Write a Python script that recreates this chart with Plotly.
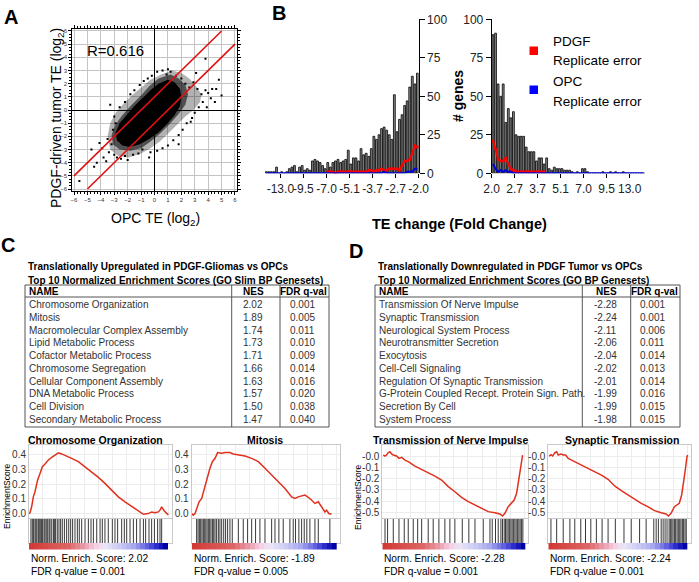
import plotly.graph_objects as go

W, H = 699, 582
FONT = "Arial, Liberation Sans, Helvetica, sans-serif"

# ------------------------------------------------------------------ data
# Panel A: scatter of TE (log2)
scatter_r_text = "R=0.616"
te_threshold_log2 = 1.0
core_x = [1.0, 1.5, 1.9, 2.0, 1.9, 1.5, 0.9, 0.3, -0.4, -1.1, -1.8, -2.4, -2.8, -2.9, -2.6, -2.1, -1.5, -0.9, -0.3, 0.3]
core_y = [2.3, 2.1, 1.6, 1.0, 0.3, -0.4, -1.1, -1.7, -2.2, -2.6, -2.8, -2.7, -2.3, -1.7, -1.0, -0.4, 0.3, 0.9, 1.5, 2.0]
mid_x = [1.2, 1.8, 2.3, 2.5, 2.3, 1.8, 1.1, 0.4, -0.3, -1.0, -1.8, -2.6, -3.1, -3.2, -2.9, -2.4, -1.7, -1.0, -0.4, 0.3]
mid_y = [2.7, 2.4, 1.9, 1.2, 0.4, -0.3, -1.1, -1.8, -2.4, -2.9, -3.1, -3.0, -2.6, -1.9, -1.1, -0.4, 0.4, 1.1, 1.8, 2.4]
halo_x = [1.3, 0.5, -0.3, -1.0, -1.7, -2.3, -2.9, -3.3, -3.5, -3.3, -2.7, -1.9, -1.0, -0.3, 0.4, 1.0, 1.7, 2.3, 2.9, 3.4, 3.5, 3.1, 2.6, 2.0]
halo_y = [3.0, 2.7, 2.3, 1.7, 1.1, 0.5, -0.2, -1.0, -2.0, -3.0, -3.5, -3.6, -3.3, -2.9, -2.4, -1.8, -1.1, -0.5, 0.0, 0.6, 1.2, 1.8, 2.4, 2.8]
outlier_x = [-5.6, -4.7, -4.3, -3.8, -3.6, -3.9, -3.4, -3.2, -3.5, -3.0, -2.8, -2.5, -2.2, -2.0, -1.6, -1.2, -0.9,
             -3.3, -3.0, -2.9, -3.1, -2.6, -2.2, -1.8, -1.5, -1.1, -0.8, -0.5, -0.2, 0.2, 0.6, 1.0, 1.2, 0.9,
             1.6, 2.0, 2.3, 2.6, 2.9, 3.2, 3.5, 3.8, 4.0, 4.3, 4.6, 5.0, 4.2, 3.6, 3.3, 3.0, 2.8, 2.4, 2.1, 1.8,
             1.4, 1.0, 0.6, 0.2, -0.3, 3.8, 3.1, 2.7, 3.9, 4.5, 4.8, -4.1, -4.5, -0.4, 1.8]
outlier_y = [-5.4, -3.0, -4.0, -3.6, -3.9, -2.9, -3.2, -2.6, -2.2, -3.4, -3.6, -3.7, -3.5, -3.8, -3.4, -3.3, -3.0,
             0.4, -0.5, -1.0, -1.5, 0.2, 0.6, 1.2, 1.5, 1.9, 2.2, 2.4, 2.6, 2.9, 3.0, 3.1, 2.9, 2.7,
             2.6, 2.4, 2.0, 1.7, 2.1, 1.6, 1.2, 1.5, 1.3, 1.6, 1.6, 1.1, 0.9, 0.6, 0.2, -0.2, -0.6, -1.0, -1.5, -1.9,
             -2.3, -2.7, -2.9, -3.1, -3.2, 3.9, 2.8, -0.9, 0.2, 0.6, 2.3, -2.5, -4.3, -3.6, -2.6]

# Panel B: histograms, 60 bins of 0.05 log2 units from |FC| = 2 to 16
bin_start_log2 = 1.0
bin_width_log2 = 0.05
down_counts = [1, 1, 1, 1, 4, 0, 1, 0, 1, 3,
               4, 5, 1, 4, 5, 2, 3, 2, 8, 9,
               8, 7, 5, 3, 7, 4, 7, 8, 9, 7,
               8, 9, 15, 6, 10, 10, 8, 16, 12, 13,
               11, 16, 24, 22, 25, 29, 30, 28, 25, 22,
               51, 27, 35, 38, 44, 47, 56, 63, 58, 65]          # ordered from -16 fold to -2 fold
down_pdgf_err = [None] * 24 + [1, 1, 1, 0, 1, 1, 1, 1, 1, 1,
                               1, 1, 1, 1, 1, 1, 2, 2, 1, 2,
                               2, 3, 2, 2, 3, 3, 3, 3, 2, 5,
                               8, 8, 9, 13, 18, 17]
down_opc_err = [0] * 46 + [1] + [0] * 8 + [1, 1, 1, 3, 3]
up_counts = [90, 91, 58, 50, 58, 33, 42, 36, 40, 25,
             24, 24, 24, 17, 14, 14, 14, 8, 10, 10,
             6, 10, 3, 2, 4, 3, 3, 3, 2, 2,
             2, 1, 0, 1, 0, 3, 3, 1, 0, 0,
             0, 0, 0, 1, 0, 0, 1, 0, 1, 0,
             0, 1, 0, 0, 0, 0, 0, 0, 0, 0]                        # ordered from 2 fold to 16 fold
up_pdgf_err = [21, 16, 9, 8, 8, 10, 6, 3, 2, 1, 1, 1, 1, 1, 1, 1, 1, 1, 1, 1, 1] + [None] * 39
up_opc_err = [6, 3, 1, 2, 1, 2, 1, 1] + [0] * 52
fc_tick_log2 = [1.0, 1.45, 1.9, 2.35, 2.8, 3.25, 3.7]
fc_tick_labels = ["2.0", "2.7", "3.7", "5.1", "7.0", "9.5", "13.0"]
count_ticks = [0, 25, 50, 75, 100]

# Panel C / D tables
c_title = ["Translationally Upregulated in PDGF-Gliomas vs OPCs",
           "Top 10 Normalized Enrichment Scores (GO Slim BP Genesets)"]
c_names = ["Chromosome Organization", "Mitosis", "Macromolecular Complex Assembly", "Lipid Metabolic Process",
           "Cofactor Metabolic Process", "Chromosome Segregation", "Cellular Component Assembly",
           "DNA Metabolic Process", "Cell Division", "Secondary Metabolic Process"]
c_nes = ["2.02", "1.89", "1.74", "1.73", "1.71", "1.66", "1.63", "1.57", "1.50", "1.47"]
c_fdr = ["0.001", "0.005", "0.011", "0.010", "0.009", "0.014", "0.016", "0.020", "0.038", "0.040"]
d_title = ["Translationally Downregulated in PDGF Tumor vs OPCs",
           "Top 10 Normalized Enrichment Scores (GO BP Genesets)"]
d_names = ["Transmission Of Nerve Impulse", "Synaptic Transmission", "Neurological System Process",
           "Neurotransmitter Secretion", "Exocytosis", "Cell-Cell Signaling", "Regulation Of Synaptic Transmission",
           "G-Protein Coupled Recept. Protein Sign. Path.", "Secretion By Cell", "System Process"]
d_nes = ["-2.28", "-2.24", "-2.11", "-2.06", "-2.04", "-2.02", "-2.01", "-1.99", "-1.99", "-1.98"]
d_fdr = ["0.001", "0.001", "0.006", "0.011", "0.014", "0.013", "0.014", "0.016", "0.015", "0.015"]
table_header = ["NAME", "NES", "FDR q-val"]

# GSEA enrichment plots
gsea_titles = ["Chromosome Organization", "Mitosis", "Transmission of Nerve Impulse", "Synaptic Transmission"]
gsea_nes = ["2.02", "-1.89", "-2.28", "-2.24"]
gsea_fdr = ["0.001", "0.005", "0.001", "0.001"]
es1_rank = [0.0, 0.007, 0.019, 0.031, 0.043, 0.062, 0.079, 0.096, 0.115, 0.139, 0.163, 0.187, 0.211, 0.234, 0.258,
            0.306, 0.354, 0.402, 0.45, 0.498, 0.545, 0.593, 0.641, 0.689, 0.737, 0.785, 0.821, 0.856, 0.88, 0.904,
            0.928, 0.94, 0.952, 0.971, 0.988, 1.0]
es1_score = [0.0, 0.005, 0.046, 0.114, 0.149, 0.229, 0.274, 0.32, 0.338, 0.366, 0.384, 0.4, 0.414, 0.407, 0.398,
             0.377, 0.354, 0.32, 0.286, 0.247, 0.206, 0.16, 0.114, 0.08, 0.05, 0.018, -0.005, 0.0, 0.011, 0.005,
             0.011, 0.023, 0.046, 0.018, 0.005, -0.01]
es2_rank = [0.0, 0.011, 0.023, 0.034, 0.051, 0.069, 0.092, 0.11, 0.126, 0.143, 0.161, 0.179, 0.207, 0.23, 0.264,
            0.287, 0.322, 0.368, 0.414, 0.46, 0.506, 0.552, 0.598, 0.644, 0.69, 0.713, 0.736, 0.782, 0.816, 0.851,
            0.874, 0.897, 0.92, 0.931, 0.947, 0.966]
es2_score = [0.0, -0.011, 0.0, 0.034, 0.08, 0.103, 0.183, 0.263, 0.309, 0.354, 0.377, 0.416, 0.411, 0.416, 0.416,
             0.407, 0.4, 0.393, 0.377, 0.354, 0.309, 0.263, 0.217, 0.171, 0.114, 0.103, 0.114, 0.126, 0.103, 0.069,
             0.08, 0.046, 0.011, 0.023, 0.0, -0.005]
es3_rank = [0.007, 0.019, 0.03, 0.042, 0.054, 0.065, 0.077, 0.1, 0.117, 0.136, 0.159, 0.182, 0.229, 0.276, 0.322,
            0.369, 0.416, 0.463, 0.509, 0.556, 0.603, 0.65, 0.696, 0.743, 0.79, 0.825, 0.843, 0.86, 0.883, 0.907,
            0.925, 0.942, 0.953, 0.965, 0.977, 0.984]
es3_score = [0.009, 0.0, 0.009, 0.03, 0.038, 0.018, 0.009, 0.0, -0.021, -0.012, -0.036, -0.05, -0.089, -0.118,
             -0.148, -0.178, -0.213, -0.272, -0.317, -0.367, -0.405, -0.435, -0.464, -0.494, -0.503, -0.515, -0.533,
             -0.509, -0.45, -0.42, -0.391, -0.331, -0.243, -0.124, -0.021, 0.009]
es4_rank = [0.005, 0.019, 0.031, 0.048, 0.06, 0.071, 0.09, 0.107, 0.124, 0.143, 0.167, 0.19, 0.238, 0.286, 0.333,
            0.381, 0.429, 0.476, 0.524, 0.571, 0.619, 0.667, 0.714, 0.762, 0.81, 0.845, 0.862, 0.881, 0.905, 0.924,
            0.94, 0.957, 0.971, 0.983, 0.995, 1.0]
es4_score = [0.0, 0.012, 0.0, 0.03, 0.038, 0.009, 0.018, 0.009, 0.009, -0.021, -0.036, -0.05, -0.08, -0.109,
             -0.139, -0.169, -0.207, -0.266, -0.308, -0.346, -0.385, -0.42, -0.45, -0.485, -0.503, -0.515, -0.533,
             -0.509, -0.45, -0.435, -0.42, -0.346, -0.243, -0.124, -0.006, 0.009]
hits1 = [0.014, 0.024, 0.033, 0.043, 0.05, 0.057, 0.067, 0.074, 0.084, 0.091, 0.098, 0.108, 0.115, 0.124, 0.134,
         0.144, 0.151, 0.163, 0.175, 0.182, 0.191, 0.203, 0.215, 0.227, 0.239, 0.254, 0.27, 0.285, 0.299, 0.313,
         0.33, 0.347, 0.361, 0.378, 0.402, 0.426, 0.445, 0.462, 0.486, 0.51, 0.526, 0.545, 0.569, 0.598, 0.617,
         0.636, 0.665, 0.684, 0.701, 0.725, 0.749, 0.772, 0.797, 0.821, 0.837, 0.861, 0.88, 0.9, 0.923, 0.94, 0.952]
hits2 = [0.034, 0.044, 0.053, 0.062, 0.071, 0.08, 0.087, 0.097, 0.106, 0.115, 0.124, 0.133, 0.143, 0.152, 0.161,
         0.172, 0.184, 0.195, 0.207, 0.221, 0.234, 0.248, 0.264, 0.28, 0.322, 0.356, 0.386, 0.414, 0.441, 0.471,
         0.506, 0.552, 0.575, 0.602, 0.632, 0.678, 0.701, 0.717, 0.74, 0.759, 0.777, 0.795, 0.816, 0.851, 0.874, 0.954]
hits3 = [0.019, 0.037, 0.077, 0.117, 0.154, 0.182, 0.217, 0.248, 0.276, 0.322, 0.357, 0.397, 0.439, 0.474, 0.509,
         0.561, 0.607, 0.65, 0.708, 0.755, 0.771, 0.794, 0.813, 0.832, 0.843, 0.855, 0.864, 0.874, 0.883, 0.893,
         0.902, 0.911, 0.921, 0.93, 0.939, 0.949, 0.958, 0.967, 0.977, 0.986]
hits4 = [0.019, 0.06, 0.107, 0.155, 0.19, 0.233, 0.267, 0.305, 0.345, 0.386, 0.429, 0.481, 0.543, 0.595, 0.655,
         0.702, 0.757, 0.774, 0.79, 0.81, 0.824, 0.838, 0.852, 0.867, 0.876, 0.886, 0.895, 0.905, 0.914, 0.924,
         0.933, 0.943, 0.952, 0.962, 0.971, 0.981, 0.99]
rank_bar_levels = list(range(30))


# ------------------------------------------------------------------ helpers
def X(p):
    return p / W


def Y(p):
    return 1 - p / H


def dom_x(a, b):
    return [a / W, b / W]


def dom_y(top, bottom):
    return [1 - bottom / H, 1 - top / H]


fig = go.Figure()
annotations = []
shapes = []


def text(x, y, s, size=10, bold=False, color="black", xanchor="center", yanchor="middle", angle=0):
    if bold:
        s = "<b>" + s + "</b>"
    annotations.append(dict(x=X(x), y=Y(y), xref="paper", yref="paper", text=s, showarrow=False,
                            xanchor=xanchor, yanchor=yanchor, textangle=angle, borderpad=0,
                            font=dict(family=FONT, size=size, color=color)))


def line(x0, y0, x1, y1, color="#555", width=1):
    shapes.append(dict(type="line", xref="paper", yref="paper", x0=X(x0), y0=Y(y0), x1=X(x1), y1=Y(y1),
                       line=dict(color=color, width=width)))


layout = dict(width=W, height=H, margin=dict(l=0, r=0, t=0, b=0, pad=0, autoexpand=False),
              paper_bgcolor="white", plot_bgcolor="white", showlegend=False, font=dict(family=FONT))

# ------------------------------------------------------------------ Panel A
for px_, py_, fc in [(halo_x, halo_y, "rgba(0,0,0,0.3)"), (mid_x, mid_y, "rgba(0,0,0,0.55)"),
                     (core_x, core_y, "black")]:
    fig.add_trace(go.Scatter(x=px_ + px_[:1], y=py_ + py_[:1], mode="lines", fill="toself",
                             fillcolor=fc, line=dict(width=0), hoverinfo="skip", xaxis="x", yaxis="y"))
fig.add_trace(go.Scatter(x=outlier_x, y=outlier_y, mode="markers",
                         marker=dict(size=2, color="black", symbol="square"), xaxis="x", yaxis="y"))
lim = 6
fig.add_trace(go.Scatter(x=[-lim, lim - te_threshold_log2], y=[-lim + te_threshold_log2, lim], mode="lines",
                         line=dict(color="#e01010", width=1.6), xaxis="x", yaxis="y"))
fig.add_trace(go.Scatter(x=[-lim + te_threshold_log2, lim], y=[-lim, lim - te_threshold_log2], mode="lines",
                         line=dict(color="#e01010", width=1.6), xaxis="x", yaxis="y"))
sc_axis = dict(range=[-6.12, 6.12], tickvals=list(range(-6, 7)), tickfont=dict(size=6, color="#333"),
               ticks="outside", ticklen=3, tickcolor="black", showgrid=True, gridcolor="#c4c4c4", gridwidth=0.6,
               zeroline=True, zerolinecolor="black", zerolinewidth=1, showline=True, linecolor="black",
               linewidth=1, mirror="ticks", tickangle=0,
               minor=dict(dtick=0.25, ticks="outside", ticklen=2, tickcolor="black", showgrid=False))
layout["xaxis"] = dict(domain=dom_x(72.4, 236.6), anchor="y", **sc_axis)
layout["yaxis"] = dict(domain=dom_y(29.4, 190.6), anchor="x", **sc_axis)
annotations.append(dict(x=-2.9, y=4.5, xref="x", yref="y", text=scatter_r_text, showarrow=False,
                        font=dict(family=FONT, size=15, color="black")))
text(57, 118, "PDGF-driven tumor TE (log<sub>2</sub>)", size=14, angle=-90)
text(155, 219, "OPC TE (log<sub>2</sub>)", size=14)

# ------------------------------------------------------------------ Panel B
n_bins = len(down_counts)
down_x = [-(bin_start_log2 + bin_width_log2 * (n_bins - i - 0.5)) for i in range(n_bins)]
up_x = [bin_start_log2 + bin_width_log2 * (i + 0.5) for i in range(n_bins)]
bar_style = dict(color="#8a8a8a", line=dict(color="black", width=0.8))
fig.add_trace(go.Bar(x=down_x, y=down_counts, width=bin_width_log2 * 0.72, marker=bar_style,
                     xaxis="x2", yaxis="y2"))
fig.add_trace(go.Scatter(x=down_x, y=down_pdgf_err, mode="lines+markers", line=dict(color="#ff0000", width=2),
                         marker=dict(size=3, color="#ff0000"), xaxis="x2", yaxis="y2"))
fig.add_trace(go.Scatter(x=down_x, y=down_opc_err, mode="lines", line=dict(color="#0000e0", width=2),
                         xaxis="x2", yaxis="y2"))
fig.add_trace(go.Bar(x=up_x, y=up_counts, width=bin_width_log2 * 0.72, marker=bar_style,
                     xaxis="x3", yaxis="y3"))
fig.add_trace(go.Scatter(x=up_x, y=up_pdgf_err, mode="lines+markers", line=dict(color="#ff0000", width=2),
                         marker=dict(size=3, color="#ff0000"), xaxis="x3", yaxis="y3"))
fig.add_trace(go.Scatter(x=up_x, y=up_opc_err, mode="lines", line=dict(color="#0000e0", width=2),
                         xaxis="x3", yaxis="y3"))

hist_x_common = dict(showgrid=False, zeroline=False, showline=False, ticks="outside", ticklen=4,
                     tickcolor="black", tickfont=dict(size=12, color="#222"), tickangle=0)
hist_y_common = dict(range=[0, 100], tickvals=count_ticks, showgrid=False, zeroline=False, showline=True,
                     linecolor="black", linewidth=1, ticks="outside", ticklen=5, tickcolor="black",
                     tickfont=dict(size=12, color="#222"))
layout["xaxis2"] = dict(domain=dom_x(265, 418.7), anchor="y2", range=[-4, -1],
                        tickvals=[-v for v in fc_tick_log2], ticktext=["-" + t for t in fc_tick_labels],
                        **hist_x_common)
layout["yaxis2"] = dict(domain=dom_y(19.3, 173.3), anchor="x2", side="right", **hist_y_common)
layout["xaxis3"] = dict(domain=dom_x(491.7, 645), anchor="y3", range=[1, 4],
                        tickvals=fc_tick_log2, ticktext=fc_tick_labels, **hist_x_common)
layout["yaxis3"] = dict(domain=dom_y(19.3, 173.3), anchor="x3", side="left", **hist_y_common)

text(458, 96, "# genes", size=14, bold=True, angle=-90)
text(459.5, 224, "TE change (Fold Change)", size=14.5, bold=True)
shapes.append(dict(type="rect", xref="paper", yref="paper", x0=X(529.5), x1=X(538), y0=Y(55), y1=Y(46.5),
                   fillcolor="#ff0000", line=dict(width=0)))
shapes.append(dict(type="rect", xref="paper", yref="paper", x0=X(529.5), x1=X(538), y0=Y(94), y1=Y(85.5),
                   fillcolor="#0000ff", line=dict(width=0)))
text(551.5, 42, "PDGF", size=13.5, xanchor="left")
text(551.5, 61, "Replicate error", size=13.5, xanchor="left")
text(551.5, 82, "OPC", size=13.5, xanchor="left")
text(551.5, 101, "Replicate error", size=13.5, xanchor="left")

# ------------------------------------------------------------------ Panel letters
text(11, 17, "A", size=20, bold=True)
text(279, 13, "B", size=20, bold=True)
text(7.5, 245, "C", size=20, bold=True)
text(356, 251, "D", size=20, bold=True)


# ------------------------------------------------------------------ Tables C and D
def draw_table(x0, x1, div1, div2, name_x, nes_c, fdr_c, titles, names, nes, fdr):
    text(x0 + 2, 266.7, titles[0], size=10, bold=True, xanchor="left")
    text(x0 + 2, 280, titles[1], size=10, bold=True, xanchor="left")
    top, hdr, bottom = 285, 297, 427
    line(x0, top, x1, top)
    line(x0, bottom, x1, bottom)
    line(x0, top, x0, bottom)
    line(x1, top, x1, bottom)
    line(x0, hdr, x1, hdr)
    line(div1, top, div1, bottom)
    line(div2, top, div2, bottom)
    text(name_x, 291, table_header[0], size=10, bold=True, xanchor="left")
    text(nes_c + 1, 291, table_header[1], size=10, bold=True)
    text(fdr_c + 1.5, 291, table_header[2], size=10, bold=True)
    for k in range(len(names)):
        yy = 304.5 + 12.78 * k
        text(name_x, yy, names[k], size=10, color="#333", xanchor="left")
        text(nes_c, yy, nes[k], size=10, color="#333")
        text(fdr_c, yy, fdr[k], size=10, color="#333")


draw_table(25, 329, 231.7, 280, 28.3, 253, 302, c_title, c_names, c_nes, c_fdr)
draw_table(375, 680, 582.3, 630.7, 378.3, 605, 652.5, d_title, d_names, d_nes, d_fdr)

# ------------------------------------------------------------------ GSEA plots
gsea_boxes = [(29, 171.7), (191.7, 340), (382.3, 528.3), (548.3, 691)]
title_centers = [95.5, 264.5, 450, 622]
es_ranks = [es1_rank, es2_rank, es3_rank, es4_rank]
es_scores = [es1_score, es2_score, es3_score, es4_score]
hit_sets = [hits1, hits2, hits3, hits4]
pos_ticks = [0.0, 0.1, 0.2, 0.3, 0.4]
neg_ticks = [0.0, -0.1, -0.2, -0.3, -0.4, -0.5]
rank_colors = [[0.0, "#d23a36"], [0.28, "#de6666"], [0.4, "#eaa0b0"], [0.47, "#f4cde0"], [0.54, "#ebe6f6"],
               [0.64, "#cfcff4"], [0.76, "#a8a8ee"], [0.85, "#6a6ae2"], [0.92, "#3434d4"], [1.0, "#0000a8"]]
xr = [0, 1.024]
nlev = len(rank_bar_levels)
for g in range(4):
    a, b = gsea_boxes[g]
    ie, ih, ic = 4 + g, 8 + g, 12 + g
    # enrichment-score panel
    fig.add_trace(go.Scatter(x=es_ranks[g], y=es_scores[g], mode="lines", line=dict(color="#e0301e", width=1.5),
                             xaxis="x%d" % ie, yaxis="y%d" % ie))
    layout["xaxis%d" % ie] = dict(domain=dom_x(a, b), anchor="y%d" % ie, range=xr, dtick=0.1,
                                  showticklabels=False, ticks="", showgrid=True, gridcolor="#ececec",
                                  zeroline=False, showline=True, mirror=True, linecolor="#c8c8c8")
    if g < 2:
        yrange, tv = [-0.027, 0.468], pos_ticks
        tt = ["%.1f" % v for v in tv]
    else:
        yrange, tv = [-0.546, 0.098], neg_ticks
        tt = ["-%.1f" % abs(v) for v in tv]
    layout["yaxis%d" % ie] = dict(domain=dom_y(445, 517.5), anchor="x%d" % ie, range=yrange, tickvals=tv,
                                  ticktext=tt, ticks="", tickfont=dict(size=10, color="#333"),
                                  showgrid=True, gridcolor="#ececec", zeroline=False, showline=True,
                                  mirror=True, linecolor="#c8c8c8")
    # hit lines
    hx, hy = [], []
    for h in hit_sets[g]:
        hx += [h, h, None]
        hy += [0, 1, None]
    fig.add_trace(go.Scatter(x=hx, y=hy, mode="lines", line=dict(color="rgba(0,0,0,0.78)", width=1),
                             xaxis="x%d" % ih, yaxis="y%d" % ih))
    layout["xaxis%d" % ih] = dict(domain=dom_x(a, b), anchor="y%d" % ih, range=xr, showticklabels=False,
                                  ticks="", showgrid=False, zeroline=False, showline=True, mirror=True,
                                  linecolor="#c8c8c8")
    layout["yaxis%d" % ih] = dict(domain=dom_y(519, 543), anchor="x%d" % ih, range=[0, 1],
                                  showticklabels=False, ticks="", showgrid=False, zeroline=False,
                                  showline=True, mirror=True, linecolor="#c8c8c8")
    # ranked-list colour bar
    fig.add_trace(go.Heatmap(z=[rank_bar_levels], x=[(k + 0.5) / nlev for k in range(nlev)], y=[0.5],
                             colorscale=rank_colors, showscale=False, xaxis="x%d" % ic, yaxis="y%d" % ic,
                             hoverinfo="skip"))
    layout["xaxis%d" % ic] = dict(domain=dom_x(a, b), anchor="y%d" % ic, range=xr, showticklabels=False,
                                  ticks="", showgrid=False, zeroline=False, showline=False)
    layout["yaxis%d" % ic] = dict(domain=dom_y(543, 549.5), anchor="x%d" % ic, range=[0, 1],
                                  showticklabels=False, ticks="", showgrid=False, zeroline=False, showline=False)
    text(title_centers[g], 440, gsea_titles[g], size=10.5, bold=True)
    text(a + 1, 558.3, "Norm. Enrich. Score: " + gsea_nes[g], size=10.2, xanchor="left")
    text(a + 1, 571.7, "FDR q-value = " + gsea_fdr[g], size=10.2, xanchor="left")

text(7, 497, "EnrichmentScore", size=8.5, angle=-90)
text(358, 497, "EnrichmentScore", size=8.5, angle=-90)

layout["annotations"] = annotations
layout["shapes"] = shapes
fig.update_layout(**layout)
fig.write_html("out.html", config={"displayModeBar": False},
               post_script="document.body.style.margin='0px';document.body.style.overflow='hidden';")
